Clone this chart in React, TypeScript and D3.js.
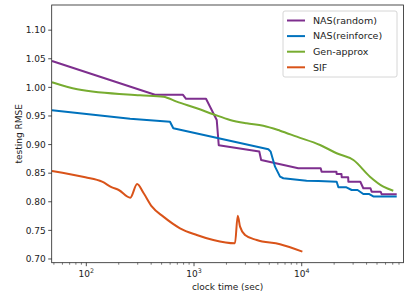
import React from 'react';
import * as d3 from 'd3';

const W = 406;
const H = 296;

const seriesNames = ['NAS(random)', 'NAS(reinforce)', 'Gen-approx', 'SIF'];
const seriesColors = ['#7E2F8E', '#0072BD', '#77AC30', '#D95319'];

const nasRandomTime = [48, 434, 790, 843, 1292, 1625, 1696, 4036, 4200, 9290, 15000, 15300, 21000, 21100, 23400, 23500, 27000, 27100, 35000, 37300, 43500, 44600, 54000, 55300, 76200];
const nasRandomRmse = [1.046, 0.987, 0.987, 0.98, 0.98, 0.943, 0.899, 0.888, 0.873, 0.8586, 0.8586, 0.8526, 0.8526, 0.8486, 0.8486, 0.8428, 0.8428, 0.835, 0.835, 0.8236, 0.8236, 0.8177, 0.8177, 0.8131, 0.8131];

const nasReinforceTime = [48, 255, 598, 642, 4900, 5150, 5650, 6290, 6750, 11100, 14300, 21100, 21900, 26000, 29100, 33000, 37300, 42000, 46200, 76200];
const nasReinforceRmse = [0.96, 0.9453, 0.94, 0.9285, 0.8918, 0.8876, 0.8614, 0.8439, 0.8411, 0.8369, 0.8362, 0.835, 0.8253, 0.8253, 0.8206, 0.8206, 0.8136, 0.8136, 0.8093, 0.8093];

const genApproxTime = [48, 82.5, 315, 520, 690, 1060, 1510, 2160, 3080, 4400, 6290, 9000, 14800, 21100, 30200, 43000, 57300, 70800];
const genApproxRmse = [1.009, 0.9967, 0.9862, 0.9838, 0.975, 0.9635, 0.953, 0.943, 0.9372, 0.933, 0.9243, 0.9138, 0.8993, 0.8848, 0.873, 0.8439, 0.8264, 0.8194];

const sifTime = [48, 97.9, 140, 173, 200, 256, 296, 341, 407, 519, 741, 1060, 1510, 2400, 2545, 2675, 2975, 3820, 6290, 10140];
const sifRmse = [0.8538, 0.8428, 0.8351, 0.8253, 0.8206, 0.8072, 0.8311, 0.8149, 0.7914, 0.774, 0.7537, 0.742, 0.7332, 0.7274, 0.7757, 0.7565, 0.742, 0.7332, 0.7257, 0.7128];

const yTicks = [0.7, 0.75, 0.8, 0.85, 0.9, 0.95, 1.0, 1.05, 1.1];
const xTicks = [100, 1000, 10000];
const xTickExps = ['2', '3', '4'];

const xLabel = 'clock time (sec)';
const yLabel = 'testing RMSE';

const L = 51.7, R = 403.5, T = 5, B = 262.7;

export default function App() {
  const x = d3.scaleLog().domain([47.7, 88100]).range([L, R]);
  const y = d3.scaleLinear().domain([0.6935, 1.144]).range([B, T]);

  const series = [
    { t: nasRandomTime, v: nasRandomRmse, curve: d3.curveLinear },
    { t: nasReinforceTime, v: nasReinforceRmse, curve: d3.curveLinear },
    { t: genApproxTime, v: genApproxRmse, curve: d3.curveMonotoneX },
    { t: sifTime, v: sifRmse, curve: d3.curveMonotoneX },
  ];

  const minorTicks: number[] = [];
  for (let e = 1; e <= 4; e++) {
    for (let m = 2; m <= 9; m++) {
      const v = m * Math.pow(10, e);
      if (v >= 47.7 && v <= 88100) minorTicks.push(v);
    }
  }

  const font = 'DejaVu Sans, sans-serif';
  const fs = 9;

  const legX = 283, legY = 11, legW = 114, legH = 66;

  return (
    <svg width={W} height={H} style={{ position: 'absolute', left: 0, top: 0, background: '#fff' }} fontFamily={font}>
      <defs>
        <clipPath id="plotclip">
          <rect x={L} y={T} width={R - L} height={B - T} />
        </clipPath>
      </defs>
      <rect x={0} y={0} width={W} height={H} fill="#fff" />
      <g clipPath="url(#plotclip)">
        {series.map((s, i) => {
          const line = d3.line<number>()
            .x((_, j) => x(s.t[j]))
            .y((d) => y(d))
            .curve(s.curve);
          return (
            <path key={i} d={line(s.v) || ''} fill="none" stroke={seriesColors[i]} strokeWidth={2} strokeLinejoin="round" />
          );
        })}
      </g>
      {/* y ticks */}
      {yTicks.map((t) => (
        <g key={t}>
          <line x1={L - 3.5} x2={L} y1={y(t)} y2={y(t)} stroke="#222" strokeWidth={0.8} />
          <text x={L - 6} y={y(t)} dy="0.35em" textAnchor="end" fontSize={fs} fill="#222">{t.toFixed(2)}</text>
        </g>
      ))}
      {/* x ticks */}
      {xTicks.map((t, i) => (
        <g key={t}>
          <line x1={x(t)} x2={x(t)} y1={B} y2={B + 3.5} stroke="#222" strokeWidth={0.8} />
          <text x={x(t)} y={B + 14.5} textAnchor="middle" fontSize={fs} fill="#222">
            10<tspan fontSize={6.3} dy={-4}>{xTickExps[i]}</tspan>
          </text>
        </g>
      ))}
      {minorTicks.map((t) => (
        <line key={t} x1={x(t)} x2={x(t)} y1={B} y2={B + 2} stroke="#222" strokeWidth={0.6} />
      ))}
      <rect x={L} y={T} width={R - L} height={B - T} fill="none" stroke="#222" strokeWidth={0.8} />
      <text x={(L + R) / 2} y={B + 27} textAnchor="middle" fontSize={fs} fill="#222">{xLabel}</text>
      <text transform={`translate(${18.5},${(T + B) / 2}) rotate(-90)`} textAnchor="middle" dy="0.35em" fontSize={fs} fill="#222">{yLabel}</text>
      {/* legend */}
      <rect x={legX} y={legY} width={legW} height={legH} rx={2} fill="#fff" fillOpacity={0.8} stroke="#ccc" strokeWidth={0.8} />
      {seriesNames.map((n, i) => {
        const cy = legY + 9.5 + i * 15.6;
        return (
          <g key={n}>
            <line x1={legX + 4} x2={legX + 22} y1={cy} y2={cy} stroke={seriesColors[i]} strokeWidth={2} />
            <text x={legX + 30} y={cy} dy="0.35em" fontSize={9.5} fill="#222">{n}</text>
          </g>
        );
      })}
    </svg>
  );
}
